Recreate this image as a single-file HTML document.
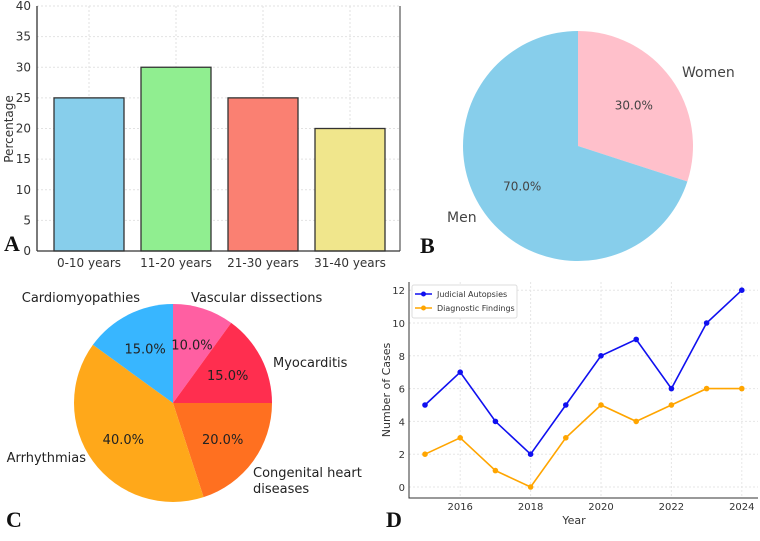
<!DOCTYPE html>
<html><head><meta charset="utf-8"><style>
body{margin:0;background:#fff;width:760px;height:536px;overflow:hidden}
svg{font-family:"DejaVu Sans","Liberation Sans",sans-serif}
.lab{font-family:"Liberation Serif",serif;font-weight:bold;font-size:22px;fill:#111}
</style></head><body>
<svg id="s" width="760" height="536" xmlns="http://www.w3.org/2000/svg">
<g id="A"></g>
<g id="B"></g>
<g id="C"></g>
<g id="D"></g>
</svg>
<script>
const ageCats=["0-10 years","11-20 years","21-30 years","31-40 years"];
const agePct=[25,30,25,20];
const ageColors=["#87ceeb","#90ee90","#fa8072","#f0e68c"];
const aTicks=[0,5,10,15,20,25,30,35,40];
const genderLabels=["Women","Men"];
const genderPct=[30,70];
const causeLabels=["Vascular dissections","Myocarditis","Congenital heart diseases","Arrhythmias","Cardiomyopathies"];
const causePct=[10,15,20,40,15];
const years=[2015,2016,2017,2018,2019,2020,2021,2022,2023,2024];
const judicial=[5,7,4,2,5,8,9,6,10,12];
const diagnostic=[2,3,1,0,3,5,4,5,6,6];
const dYTicks=[0,2,4,6,8,10,12];
const dXTicks=[2016,2018,2020,2022,2024];
const NS="http://www.w3.org/2000/svg";
function el(p,t,a,txt){const e=document.createElementNS(NS,t);for(const k in a)e.setAttribute(k,a[k]);if(txt!==undefined)e.textContent=txt;p.appendChild(e);return e;}

// Panel A
const A=document.getElementById('A');
const ay=v=>251-v*6.125, ax=i=>89+i*87;
aTicks.forEach(t=>{
 const g=el(A,'line',{x1:37,x2:400,y1:ay(t),y2:ay(t),stroke:'#e2e2e2','stroke-dasharray':'2,2'});
 
 const tx=el(A,'text',{x:31,y:ay(t)+4,'text-anchor':'end','font-size':12,fill:'#333'},t);
 
});
ageCats.forEach((c,i)=>{
 const gl=el(A,'line',{x1:ax(i),x2:ax(i),y1:6,y2:251,stroke:'#e2e2e2','stroke-dasharray':'2,2'});
 
});
ageCats.forEach((c,i)=>{
 const r=el(A,'rect',{x:ax(i)-35,y:ay(agePct[i]),width:70,height:agePct[i]*6.125,fill:ageColors[i],stroke:'#333','stroke-width':1.3});
 
 const t=el(A,'text',{x:ax(i),y:267,'text-anchor':'middle','font-size':12,fill:'#333'},c);
 
});
el(A,'line',{x1:37,x2:37,y1:6,y2:251,stroke:'#333','stroke-width':1.3});
el(A,'line',{x1:37,x2:400,y1:251,y2:251,stroke:'#333','stroke-width':1.3});
el(A,'line',{x1:400,x2:400,y1:6,y2:251,stroke:'#333','stroke-width':1});
const yt=el(A,'text',{x:13,y:129,'text-anchor':'middle','font-size':12,fill:'#333',transform:'rotate(-90 13 129)'},'Percentage');

const la=el(A,'text',{x:4,y:251,class:'lab'},'A');

function pie(G,cx,cy,r,vals,cols,prefix){
 let a0=0;const tot=vals.reduce((s,v)=>s+v,0);const mids=[];
 vals.forEach((v,i)=>{
  const a1=a0+v/tot*2*Math.PI;
  const p=(a)=>[cx+r*Math.sin(a),cy-r*Math.cos(a)];
  const [x0,y0]=p(a0),[x1,y1]=p(a1);
  const path=el(G,'path',{d:`M${cx},${cy}L${x0},${y0}A${r},${r} 0 ${a1-a0>Math.PI?1:0} 1 ${x1},${y1}Z`,fill:cols[i]});
  
  mids.push((a0+a1)/2);a0=a1;
 });
 return mids;
}
// Panel B
const B=document.getElementById('B');
const bm=pie(B,578,146,115,genderPct,["#ffc0cb","#87ceeb"],'gender');
const bNamePos=[[682,77,'start'],[447,222,'start']];
genderLabels.forEach((l,i)=>{
 const a=bm[i];
 const t=el(B,'text',{x:578+0.6*115*Math.sin(a),y:146-0.6*115*Math.cos(a)+4,'text-anchor':'middle','font-size':12,fill:'#444'},genderPct[i].toFixed(1)+'%');
 
 const p=bNamePos[i];
 const n=el(B,'text',{x:p[0],y:p[1],'text-anchor':p[2],'font-size':14,fill:'#444'},l);
 
});
const lb=el(B,'text',{x:420,y:253,class:'lab'},'B');

// Panel C
const C=document.getElementById('C');
const cm=pie(C,173,403,99,causePct,["#ff5fa2","#ff2e4f","#ff7020","#ffa81a","#38b6ff"],'cause');
const cLabPos=[[191,302,'start'],[273,367,'start'],[253,477,'start'],[86,462,'end'],[140,302,'end']];
causeLabels.forEach((l,i)=>{
 const a=cm[i];
 const t=el(C,'text',{x:173+0.62*99*Math.sin(a),y:403-0.62*99*Math.cos(a)+5,'text-anchor':'middle','font-size':13,fill:'#222'},causePct[i].toFixed(1)+'%');
 
 const p=cLabPos[i];
 const n=el(C,'text',{x:p[0],y:p[1],'text-anchor':p[2],'font-size':13,fill:'#222'});
 
 if(l==="Congenital heart diseases"){
  el(n,'tspan',{x:p[0]},'Congenital heart');el(n,'tspan',{x:p[0],dy:16},'diseases');
 } else n.textContent=l;
});
const lc=el(C,'text',{x:6,y:527,class:'lab'},'C');

// Panel D
const D=document.getElementById('D');
const dx=y=>425+(y-2015)*35.2, dy=v=>487-v*16.4;
dYTicks.forEach(t=>{
 const g=el(D,'line',{x1:409,x2:758,y1:dy(t),y2:dy(t),stroke:'#e6e6e6','stroke-dasharray':'2,2'});
 
 const tx=el(D,'text',{x:405,y:dy(t)+4,'text-anchor':'end','font-size':10,fill:'#333'},t);
 
});
dXTicks.forEach(t=>{
 el(D,'line',{x1:dx(t),x2:dx(t),y1:282,y2:498,stroke:'#e6e6e6','stroke-dasharray':'2,2'});
 const tx=el(D,'text',{x:dx(t),y:510,'text-anchor':'middle','font-size':10,fill:'#333'},t);
 
});
el(D,'path',{d:'M409,282V498H758',fill:'none',stroke:'#333','stroke-width':1});
[[judicial,'#1010f0','judicial-autopsies'],[diagnostic,'#ffa500','diagnostic-findings']].forEach(([vals,col,nm])=>{
 const pl=el(D,'polyline',{points:years.map((y,i)=>dx(y)+','+dy(vals[i])).join(' '),fill:'none',stroke:col,'stroke-width':1.6});
 
 years.forEach((y,i)=>{const c=el(D,'circle',{cx:dx(y),cy:dy(vals[i]),r:2.8,fill:col});
  });
});
const lg=el(D,'g',{});
el(lg,'rect',{x:412,y:285,width:105,height:33,fill:'#fff',stroke:'#ddd',rx:2});
[['Judicial Autopsies','#1010f0',294],['Diagnostic Findings','#ffa500',308]].forEach(([t,c,y])=>{
 el(lg,'line',{x1:415,x2:432,y1:y,y2:y,stroke:c,'stroke-width':1.6});el(lg,'circle',{cx:423.5,cy:y,r:2.5,fill:c});
 const tx=el(lg,'text',{x:437,y:y+3,'font-size':8,fill:'#333'},t);
});
const xt=el(D,'text',{x:574,y:524,'text-anchor':'middle','font-size':11,fill:'#333'},'Year');
const ytd=el(D,'text',{x:390,y:390,'text-anchor':'middle','font-size':11,fill:'#333',transform:'rotate(-90 390 390)'},'Number of Cases');
const ld=el(D,'text',{x:386,y:527,class:'lab'},'D');
</script>
</body></html>
